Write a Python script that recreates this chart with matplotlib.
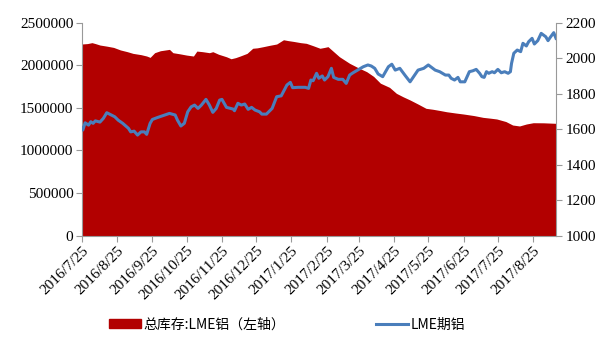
import matplotlib
matplotlib.use("Agg")
import matplotlib.pyplot as plt
from matplotlib.patches import Patch
from matplotlib.lines import Line2D
from matplotlib.ticker import FuncFormatter
import pandas as pd

plt.rcParams["font.family"] = ["Liberation Serif", "Noto Sans CJK SC"]

# LME aluminium: total stocks (left axis, tonnes) and 3M price (right axis)
stock_dates = [
    "2016-07-25", "2016-07-30", "2016-08-03", "2016-08-06", "2016-08-10", "2016-08-16",
    "2016-08-22", "2016-08-28", "2016-09-03", "2016-09-08", "2016-09-15", "2016-09-20",
    "2016-09-23", "2016-09-27", "2016-10-02", "2016-10-10", "2016-10-13", "2016-10-19",
    "2016-10-25", "2016-10-31", "2016-11-03", "2016-11-08", "2016-11-14", "2016-11-17",
    "2016-11-22", "2016-11-29", "2016-12-03", "2016-12-07", "2016-12-11", "2016-12-17",
    "2016-12-22", "2016-12-26", "2016-12-31", "2017-01-06", "2017-01-12", "2017-01-18",
    "2017-01-22", "2017-01-27", "2017-02-02", "2017-02-07", "2017-02-13", "2017-02-19",
    "2017-02-23", "2017-02-26", "2017-03-03", "2017-03-08", "2017-03-17", "2017-03-24",
    "2017-04-01", "2017-04-07", "2017-04-13", "2017-04-21", "2017-04-27", "2017-05-03",
    "2017-05-09", "2017-05-16", "2017-05-23", "2017-05-29", "2017-06-04", "2017-06-10",
    "2017-06-18", "2017-06-25", "2017-07-04", "2017-07-12", "2017-07-18", "2017-07-24",
    "2017-08-01", "2017-08-07", "2017-08-13", "2017-08-19", "2017-08-25", "2017-09-03",
    "2017-09-14",
]
stock_values = [
    2250000, 2255000, 2266000, 2255000, 2238000, 2225000,
    2210000, 2180000, 2160000, 2140000, 2125000, 2109000,
    2093000, 2148000, 2171000, 2187000, 2148000, 2135000,
    2120000, 2109000, 2167000, 2160000, 2148000, 2160000,
    2130000, 2100000, 2077000, 2090000, 2109000, 2140000,
    2200000, 2205000, 2218000, 2235000, 2250000, 2300000,
    2290000, 2280000, 2266000, 2258000, 2230000, 2200000,
    2210000, 2219000, 2160000, 2101000, 2023000, 1975000,
    1925000, 1870000, 1790000, 1741000, 1671000, 1630000,
    1593000, 1545000, 1495000, 1484000, 1470000, 1455000,
    1440000, 1428000, 1410000, 1389000, 1380000, 1370000,
    1340000, 1299000, 1288000, 1311000, 1326000, 1325000,
    1319000,
]

price_dates = [
    "2016-07-25", "2016-07-26", "2016-07-28", "2016-07-31", "2016-08-02", "2016-08-04",
    "2016-08-06", "2016-08-10", "2016-08-13", "2016-08-16", "2016-08-20", "2016-08-23",
    "2016-08-26", "2016-08-30", "2016-09-04", "2016-09-06", "2016-09-09", "2016-09-12",
    "2016-09-15", "2016-09-18", "2016-09-20", "2016-09-23", "2016-09-25", "2016-09-30",
    "2016-10-06", "2016-10-10", "2016-10-15", "2016-10-17", "2016-10-20", "2016-10-23",
    "2016-10-26", "2016-10-29", "2016-11-01", "2016-11-04", "2016-11-07", "2016-11-11",
    "2016-11-14", "2016-11-17", "2016-11-20", "2016-11-23", "2016-11-25", "2016-11-29",
    "2016-12-05", "2016-12-06", "2016-12-09", "2016-12-12", "2016-12-15", "2016-12-18",
    "2016-12-21", "2016-12-24", "2016-12-28", "2016-12-30", "2017-01-03", "2017-01-08",
    "2017-01-12", "2017-01-16", "2017-01-21", "2017-01-24", "2017-01-26", "2017-01-31",
    "2017-02-06", "2017-02-09", "2017-02-11", "2017-02-13", "2017-02-16", "2017-02-18",
    "2017-02-21", "2017-02-23", "2017-02-26", "2017-03-01", "2017-03-03", "2017-03-07",
    "2017-03-11", "2017-03-14", "2017-03-17", "2017-03-20", "2017-03-24", "2017-03-29",
    "2017-04-02", "2017-04-05", "2017-04-08", "2017-04-11", "2017-04-15", "2017-04-20",
    "2017-04-23", "2017-04-26", "2017-04-30", "2017-05-05", "2017-05-09", "2017-05-13",
    "2017-05-16", "2017-05-21", "2017-05-25", "2017-05-29", "2017-05-31", "2017-06-04",
    "2017-06-09", "2017-06-12", "2017-06-14", "2017-06-17", "2017-06-20", "2017-06-22",
    "2017-06-26", "2017-06-30", "2017-07-03", "2017-07-06", "2017-07-09", "2017-07-11",
    "2017-07-13", "2017-07-15", "2017-07-17", "2017-07-20", "2017-07-22", "2017-07-25",
    "2017-07-28", "2017-07-31", "2017-08-03", "2017-08-05", "2017-08-06", "2017-08-08",
    "2017-08-11", "2017-08-14", "2017-08-16", "2017-08-19", "2017-08-21", "2017-08-24",
    "2017-08-26", "2017-08-29", "2017-09-01", "2017-09-05", "2017-09-07", "2017-09-09",
    "2017-09-12", "2017-09-14",
]
price_values = [
    1605, 1595, 1636, 1623, 1642, 1633,
    1647, 1640, 1661, 1693, 1680, 1670,
    1651, 1633, 1605, 1585, 1589, 1567,
    1585, 1585, 1571, 1633, 1655, 1667,
    1680, 1689, 1680, 1651, 1618, 1633,
    1698, 1726, 1736, 1717, 1736, 1768,
    1736, 1695, 1717, 1764, 1768, 1723,
    1713, 1704, 1746, 1736, 1742, 1712,
    1723, 1708, 1698, 1685, 1685, 1717,
    1783, 1788, 1849, 1864, 1834, 1836,
    1836, 1830, 1877, 1873, 1915, 1887,
    1900, 1877, 1896, 1943, 1892, 1881,
    1881, 1858, 1905, 1918, 1933, 1952,
    1962, 1956, 1943, 1911, 1896, 1952,
    1966, 1933, 1943, 1900, 1867, 1905,
    1933, 1943, 1962, 1943, 1933, 1924,
    1905, 1905, 1887, 1877, 1892, 1867,
    1867, 1924, 1929, 1937, 1915, 1896,
    1892, 1924, 1915, 1924, 1918, 1937,
    1918, 1924, 1915, 1924, 1971, 2028,
    2046, 2037, 2084, 2069, 2093, 2112,
    2080, 2099, 2140, 2121, 2099, 2118,
    2144, 2112,
]

tick_dates = [
    "2016-07-25", "2016-08-25", "2016-09-25", "2016-10-25", "2016-11-25", "2016-12-25",
    "2017-01-25", "2017-02-25", "2017-03-25", "2017-04-25", "2017-05-25", "2017-06-25",
    "2017-07-25", "2017-08-25",
]
tick_labels = [
    "2016/7/25", "2016/8/25", "2016/9/25", "2016/10/25", "2016/11/25", "2016/12/25",
    "2017/1/25", "2017/2/25", "2017/3/25", "2017/4/25", "2017/5/25", "2017/6/25",
    "2017/7/25", "2017/8/25",
]

stock_label = "总库存:LME铝（左轴）"
price_label = "LME期铝"

red = "#B20000"
blue = "#4A7EBB"
grey = "#999999"

sd = pd.to_datetime(stock_dates)
pdts = pd.to_datetime(price_dates)
td = pd.to_datetime(tick_dates)

fig = plt.figure(figsize=(6.11, 3.38), dpi=100)
ax = fig.add_axes([0.1337, 0.3027, 0.7763, 0.6301])
ax2 = ax.twinx()

ax.fill_between(sd, 0, stock_values, color=red, linewidth=0)
ax2.plot(pdts, price_values, color=blue, linewidth=2.2)

ax.set_xlim(sd[0], sd[-1])
ax.set_ylim(0, 2500000)
ax.set_yticks(range(0, 2500001, 500000))
ax.yaxis.set_major_formatter(FuncFormatter(lambda v, p: "%d" % v))
ax2.set_ylim(1000, 2200)
ax2.set_yticks(range(1000, 2201, 200))

ax.set_xticks(td)
ax.set_xticklabels(tick_labels, rotation=45, ha="right", rotation_mode="anchor")

for a in (ax, ax2):
    a.spines["top"].set_visible(False)
    for s in ("left", "right", "bottom"):
        a.spines[s].set_color(grey)
        a.spines[s].set_linewidth(0.8)
    a.tick_params(colors=grey, length=4, width=0.8, labelcolor="black", labelsize=11)
ax.spines["right"].set_visible(False)
ax2.spines["left"].set_visible(False)
ax2.spines["bottom"].set_visible(False)
ax.tick_params(axis="x", pad=2)
ax.tick_params(axis="y", pad=2)
ax2.tick_params(axis="y", pad=3)

handles = [
    Patch(facecolor=red, edgecolor=red),
    Line2D([0], [0], color=blue, linewidth=2.2),
]
fig.legend(handles, [stock_label, price_label], loc="center", ncol=2,
           bbox_to_anchor=(0.47, 0.04), frameon=False, handlelength=2.3,
           handleheight=0.7, handletextpad=0.2, columnspacing=6.5,
           prop={"family": ["Noto Sans CJK SC", "DejaVu Sans"], "size": 10})

fig.savefig("out.png", dpi=100)
